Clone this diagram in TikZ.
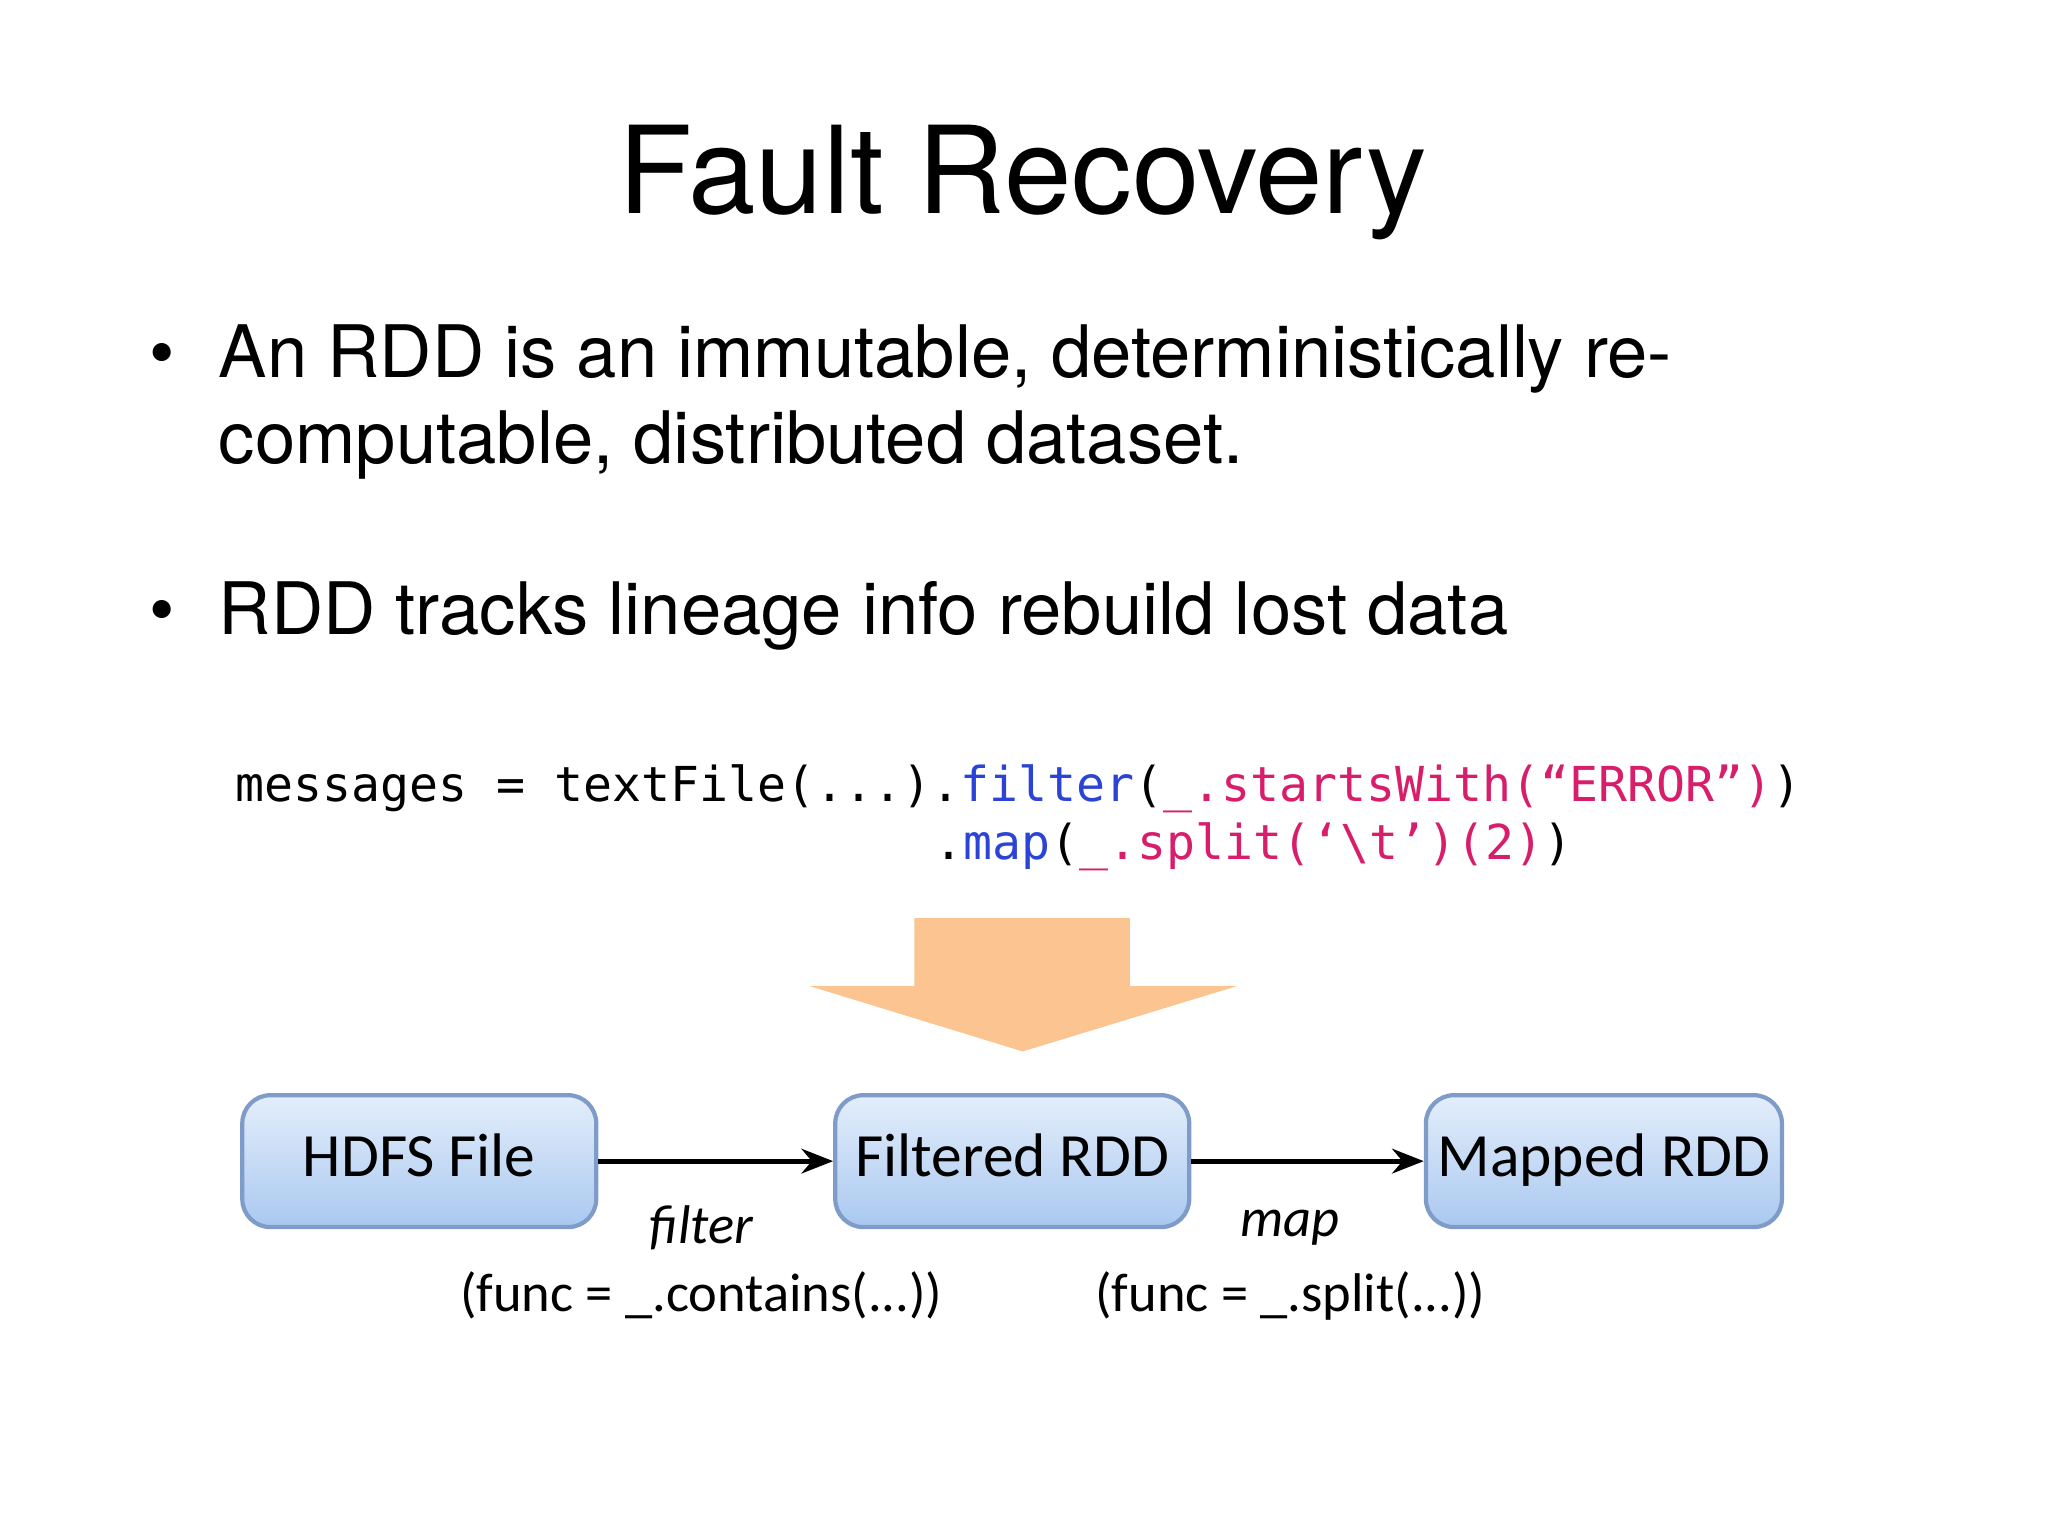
\documentclass[tikz,border=0pt]{standalone}
\usepackage{fontspec}
\setmainfont{TeX Gyre Heros}
\newfontfamily\boxfont{Carlito}
\newfontfamily\codefont{DejaVu Sans Mono}
\usetikzlibrary{arrows.meta}
\definecolor{cblue}{HTML}{2B44D6}
\definecolor{cpink}{HTML}{D81E6A}
\definecolor{orng}{HTML}{FBC490}
\definecolor{bdr}{HTML}{7F9CC8}
\definecolor{btop}{HTML}{E4EEFB}
\definecolor{bbot}{HTML}{A9C8F0}
\tikzset{
  rdd/.style={draw=bdr, line width=1.2pt, rounded corners=8pt,
    top color=btop, bottom color=bbot, minimum width=271*0.01306cm,
    minimum height=101*0.01306cm, text height=12pt, text depth=3pt,
    font=\boxfont\fontsize{17.5}{21}\selectfont},
  conn/.style={-{Stealth[length=9pt,width=7pt]}, line width=1.4pt},
  lab/.style={font=\boxfont\fontsize{15.5}{19}\selectfont},
  bul/.style={anchor=base west, inner sep=0pt, font=\fontsize{20.6}{25}\selectfont}
}
\begin{document}
\begin{tikzpicture}[x=0.01306cm,y=-0.01306cm]
\useasboundingbox (0,0) rectangle (1568,1176);
\node (title) at (783,140) {\fontsize{34.5}{40}\selectfont Fault Recovery};
\node[bul] (b1) at (114,289) {•};
\node[bul] (t1) at (167,289) {An RDD is an immutable, deterministically re-};
\node[bul] (t1b) at (167,355) {computable, distributed dataset.};
\node[bul] (b2) at (114,486) {•};
\node[bul] (t2) at (167,486) {RDD tracks lineage info rebuild lost data};
\node[anchor=base west, inner sep=0, font=\codefont\fontsize{13.7}{17}\selectfont] (c1) at (180,614)
 {messages = textFile(...).\textcolor{cblue}{filter}(\textcolor{cpink}{\_.startsWith(“ERROR”)})};
\node[anchor=base west, inner sep=0, font=\codefont\fontsize{13.7}{17}\selectfont] (c2) at (715,658)
 {.\textcolor{cblue}{map}(\textcolor{cpink}{\_.split(‘\textbackslash t’)(2)})};
\fill[orng] (700,703) -- (865,703) -- (865,755) -- (947,755) -- (783,805) -- (620,755) -- (700,755) -- cycle;
\node[rdd] (h) at (321,889) {HDFS File};
\node[rdd] (f) at (775,889) {Filtered RDD};
\node[rdd] (m) at (1228,889) {Mapped RDD};
\draw[conn] (h) -- (f);
\draw[conn] (f) -- (m);
\node[lab] (l1) at (537,940) {\itshape filter};
\node[lab] (l1b) at (537,992) {(func = \_.contains(...))};
\node[lab] (l2) at (988,940) {\itshape map};
\node[lab] (l2b) at (988,992) {(func = \_.split(...))};
\end{tikzpicture}
\end{document}
